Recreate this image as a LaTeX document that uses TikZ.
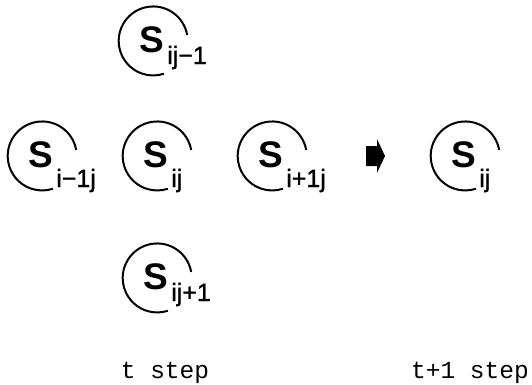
\documentclass[tikz,border=0pt]{standalone}
\usepackage{fontspec}
\setmainfont{Liberation Sans}
\newfontfamily\labelmono{Liberation Mono}
\newfontfamily\subfont[FakeBold=1.2]{Liberation Sans}
\tikzset{
  cell/.style={circle,minimum size=69pt,inner sep=0pt,draw=none},
  ring/.style={line width=2pt},
  bigS/.style={font=\fontsize{37}{37}\selectfont\bfseries,inner sep=0pt,anchor=base},
  subtext/.style={font=\subfont\fontsize{25}{25}\selectfont,inner sep=0pt,anchor=base west},
  steplabel/.style={font=\labelmono\fontsize{24.5}{24.5}\selectfont,inner sep=0pt,anchor=base},
  blockarrow/.style={fill=black}
}
% #1 name, #2 x, #3 y, #4 subscript, #5 subscript drop
\newcommand\sijcell[5]{%
  \node[cell] (#1) at (#2,#3) {};
  \draw[ring] (#1.10) arc[start angle=10,end angle=288,radius=34.5pt];
  \node[bigS] (#1S) at ([shift={(-1,-11)}]#1.center) {S};
  \node[subtext] (#1sub) at ([shift={(2.5,-#5)}]#1S.base east) {#4};
}
\begin{document}
\begin{tikzpicture}[x=1pt,y=1pt]
\useasboundingbox (0,0) rectangle (532,384);
\sijcell{top}{153}{343}{ij−1}{12}
\sijcell{left}{42}{228}{i−1j}{20}
\sijcell{mid}{157}{228}{ij}{20}
\sijcell{right}{272}{228}{i+1j}{20}
\sijcell{result}{465}{228}{ij}{20}
\sijcell{bottom}{157}{106}{ij+1}{12}
\fill[blockarrow] (366,238) -- (377,238) -- (377,245) -- (385,228)
  -- (377,211) -- (377,218) -- (366,218) -- cycle;
\node[steplabel] (tlab) at (165,6) {t step};
\node[steplabel] (t1lab) at (470,6) {t+1 step};
\end{tikzpicture}
\end{document}
